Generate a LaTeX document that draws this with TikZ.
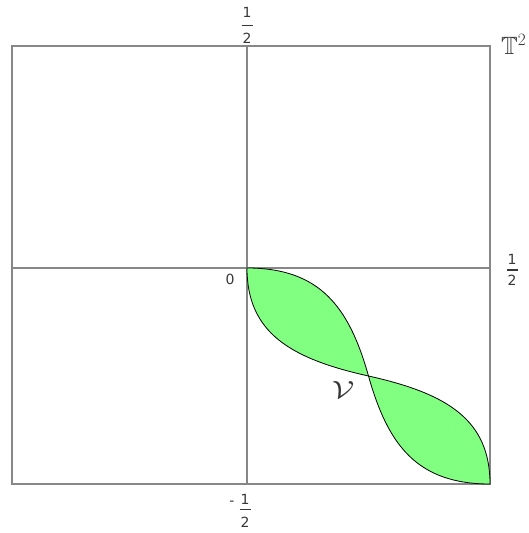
\documentclass[tikz,border=0pt]{standalone}
\usepackage{amssymb}
\usepackage{fontspec}
\setmainfont{DejaVu Sans}
\definecolor{lobegreen}{RGB}{128,255,128}
\definecolor{framegray}{RGB}{135,135,135}
\definecolor{txtgray}{RGB}{55,55,55}
\newcommand{\halffrac}[2]{\shortstack{1\\[#1]\rule{11pt}{1.3pt}\\[#2]2}}
\tikzset{
  frameline/.style={draw=framegray, line width=1.6pt},
  lobe/.style={fill=lobegreen, draw=black, line width=0.8pt, line join=round},
  lbl/.style={text=txtgray, inner sep=0pt, font=\fontsize{14}{14}\selectfont},
}
\begin{document}
\begin{tikzpicture}[x=1pt,y=-1pt]
\path[use as bounding box] (0,0) rectangle (528,533);
% frame and axes
\draw[frameline] (12,46) rectangle (490,484);
\draw[frameline] (247,46) -- (247,484);
\draw[frameline] (12,268) -- (490,268);
% lobes
\coordinate (o) at (247,268);
\coordinate (c) at (368.5,376);
\coordinate (e) at (490,484);
\path[lobe] (o) .. controls (319.9,268) and (349.1,306.9) .. (c)
  .. controls (290.7,358.7) and (247,332.8) .. (o) -- cycle;
\path[lobe] (c) .. controls (387.9,445.1) and (417.1,484) .. (e)
  .. controls (490,419.2) and (446.3,393.3) .. (c) -- cycle;
% labels
\node[lbl] (top) at (247,25.5) {\halffrac{4.5pt}{4.5pt}};
\node[lbl] (right) at (512,270) {\halffrac{1.5pt}{1.5pt}};
\node[lbl] (bot) at (245,511) {\halffrac{1pt}{4pt}};
\node[lbl] (minus) at (232,503) {-};
\node[lbl] (zero) at (230,279.5) {0};
\node[lbl, font=\fontsize{25}{25}\selectfont, anchor=west] (torus) at (501,44) {$\mathbb{T}^2$};
\node[lbl, font=\fontsize{27}{27}\selectfont] (vee) at (343,390) {\scalebox{1.3}[1]{$\mathcal{V}$}};
\end{tikzpicture}
\end{document}
